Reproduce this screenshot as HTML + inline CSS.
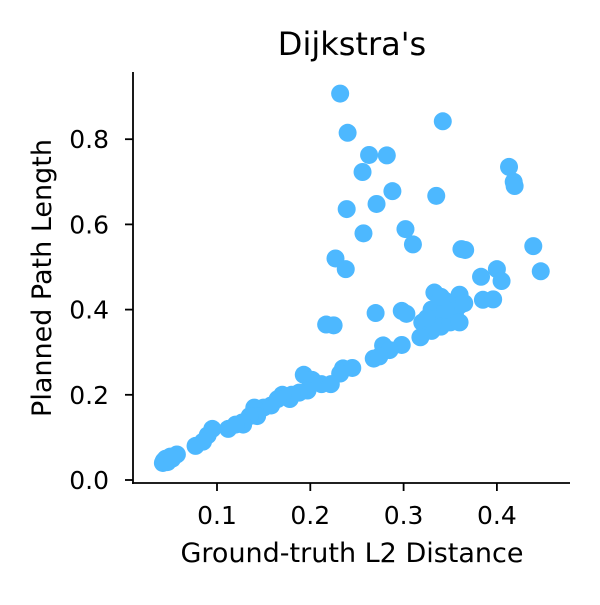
<!DOCTYPE html>
<html><head><meta charset="utf-8"><style>
body{margin:0;background:#fff;}
svg text{font-family:"DejaVu Sans","Liberation Sans",sans-serif;fill:#000;}
</style></head><body>
<svg id="chart" width="600" height="600" xmlns="http://www.w3.org/2000/svg">
<rect width="600" height="600" fill="#fff"/>
<g id="pts"></g>
<g id="axes"></g>
<text x="352" y="55" font-size="32" text-anchor="middle">Dijkstra's</text>
<text x="352" y="562" font-size="27" text-anchor="middle">Ground-truth L2 Distance</text>
<text transform="translate(51,278) rotate(-90)" font-size="27" text-anchor="middle">Planned Path Length</text>
</svg>
<script>
const xs=[0.232,0.342,0.24,0.263,0.282,0.256,0.413,0.418,0.419,0.288,0.335,0.271,0.239,0.302,0.257,0.310,0.439,0.362,0.366,0.227,0.238,0.400,0.447,0.383,0.405,0.385,0.396,
0.333,0.345,0.36,0.35,0.33,0.34,0.32,0.355,0.36,0.365,0.34,0.35,0.36,0.33,0.318,0.325,0.345,0.34,
0.298,0.303,0.27,0.217,0.225,0.278,0.298,0.285,0.268,0.274,
0.245,0.235,0.232,0.212,0.222,0.193,0.202,0.197,0.188,0.178,0.18,0.17,0.165,0.158,0.15,0.14,0.143,0.135,0.127,0.128,0.112,0.12,0.095,0.09,0.085,0.077,0.057,0.05,0.045,0.043,0.042,0.047,0.052];
const ys=[0.907,0.842,0.815,0.763,0.762,0.723,0.735,0.700,0.690,0.678,0.667,0.648,0.636,0.589,0.579,0.553,0.549,0.542,0.540,0.520,0.495,0.495,0.490,0.477,0.467,0.423,0.424,
0.44,0.42,0.435,0.41,0.40,0.38,0.37,0.39,0.41,0.415,0.36,0.37,0.37,0.35,0.335,0.38,0.40,0.43,
0.397,0.39,0.392,0.365,0.363,0.316,0.317,0.305,0.285,0.29,
0.263,0.262,0.25,0.225,0.225,0.247,0.235,0.21,0.205,0.19,0.2,0.2,0.19,0.175,0.17,0.17,0.15,0.15,0.135,0.13,0.12,0.13,0.12,0.105,0.09,0.08,0.06,0.055,0.05,0.045,0.04,0.042,0.05];
const xTicks=[0.1,0.2,0.3,0.4];
const yTicks=[0.0,0.2,0.4,0.6,0.8];
const xTickLabels=["0.1","0.2","0.3","0.4"];
const yTickLabels=["0.0","0.2","0.4","0.6","0.8"];
const X=v=>123.7+v*933, Y=v=>480-v*426;
const NS="http://www.w3.org/2000/svg";
const pts=document.getElementById('pts'), ax=document.getElementById('axes');
xs.forEach((x,i)=>{const c=document.createElementNS(NS,'circle');
c.setAttribute('cx',X(x));c.setAttribute('cy',Y(ys[i]));c.setAttribute('r',9);c.setAttribute('fill','#4db8ff');


pts.appendChild(c);});
function el(t,a){const e=document.createElementNS(NS,t);for(const k in a)e.setAttribute(k,a[k]);ax.appendChild(e);return e;}
const l1=el('line',{x1:133,y1:72,x2:133,y2:484,stroke:'#000','stroke-width':1.8});


const l2=el('line',{x1:132,y1:483,x2:570,y2:483,stroke:'#000','stroke-width':1.8});


xTicks.forEach((v,i)=>{const t=el('line',{x1:X(v),x2:X(v),y1:483,y2:491,stroke:'#000','stroke-width':1.8});


const tx=el('text',{x:X(v),y:524,'font-size':25,'text-anchor':'middle'});tx.textContent=xTickLabels[i];

});
yTicks.forEach((v,i)=>{const t=el('line',{x1:125,x2:133,y1:Y(v),y2:Y(v),stroke:'#000','stroke-width':1.8});


const tx=el('text',{x:109,y:Y(v)+9,'font-size':25,'text-anchor':'end'});tx.textContent=yTickLabels[i];

});
</script>
</body></html>
